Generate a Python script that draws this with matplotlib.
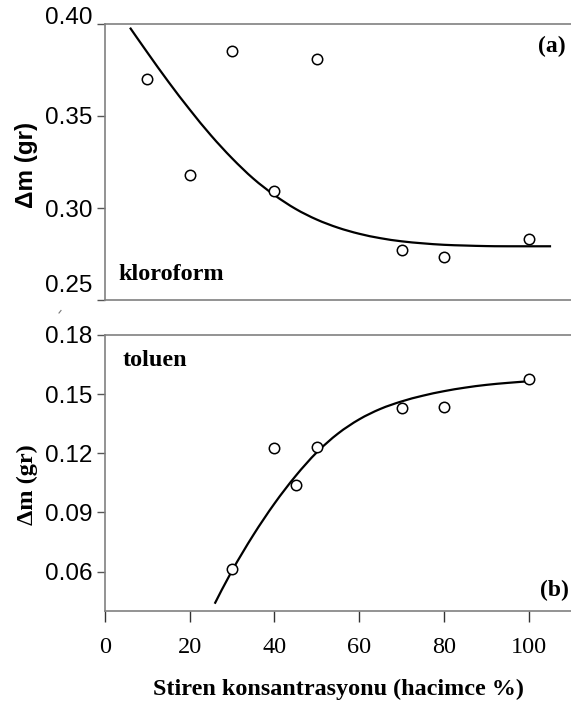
import matplotlib
matplotlib.use("Agg")
import matplotlib.pyplot as plt
from matplotlib.path import Path
from matplotlib.patches import PathPatch
from matplotlib.lines import Line2D
from matplotlib.transforms import ScaledTranslation

# ---- data ----
x_a = [10, 20, 30, 40, 50, 70, 80, 100]
y_a = [0.370, 0.318, 0.3855, 0.309, 0.381, 0.277, 0.2735, 0.2833]
fit_a_x = [5.9, 10, 15, 20, 25, 30, 35, 40, 45, 50, 55, 60, 65, 70, 75, 80, 85, 90, 95, 105.3]
fit_a_y = [0.398, 0.3845, 0.3685, 0.3535, 0.3395, 0.3270, 0.3160, 0.3070, 0.2995, 0.2937,
           0.2893, 0.2860, 0.2836, 0.2819, 0.2808, 0.2800, 0.2796, 0.2793, 0.2792, 0.2792]

x_b = [30, 40, 45, 50, 70, 80, 100]
y_b = [0.0612, 0.1227, 0.104, 0.1232, 0.1429, 0.1435, 0.1576]
fit_b_x = [25.9, 30, 35, 40, 45, 50, 55, 60, 65, 70, 75, 80, 85, 90, 95, 99.8]
fit_b_y = [0.0437, 0.0605, 0.0785, 0.0945, 0.1085, 0.1205, 0.1300, 0.1372, 0.1425, 0.1463,
           0.1492, 0.1515, 0.1533, 0.1547, 0.1557, 0.1565]

xticks = [0, 20, 40, 60, 80, 100]
yticks_a = [0.25, 0.30, 0.35, 0.40]
yticks_b = [0.06, 0.09, 0.12, 0.15, 0.18]

W, H = 571, 707
fig = plt.figure(figsize=(W / 100, H / 100), dpi=100)

spine_col = "#808080"
serif = "Liberation Serif"
sans = "Liberation Sans"


def fx(px):
    return px / W


def fy(py):
    return 1 - py / H


def smooth_path(xs, ys):
    """Smoothed line through the points (Bezier segments, like a spreadsheet 'smoothed line')."""
    pts = list(zip(xs, ys))
    n = len(pts)
    verts = [pts[0]]
    codes = [Path.MOVETO]
    for i in range(n - 1):
        p0 = pts[i - 1] if i > 0 else pts[i]
        p1 = pts[i]
        p2 = pts[i + 1]
        p3 = pts[i + 2] if i + 2 < n else pts[i + 1]
        c1 = (p1[0] + (p2[0] - p0[0]) / 6, p1[1] + (p2[1] - p0[1]) / 6)
        c2 = (p2[0] - (p3[0] - p1[0]) / 6, p2[1] - (p3[1] - p1[1]) / 6)
        verts += [c1, c2, p2]
        codes += [Path.CURVE4] * 3
    return Path(verts, codes)


L = 105
ax1 = fig.add_axes([fx(L), fy(300), fx(W - L), fy(24) - fy(300)])
ax2 = fig.add_axes([fx(L), fy(611), fx(W - L), fy(335) - fy(611)])

for ax in (ax1, ax2):
    ax.set_xlim(0, 110)
    ax.spines["right"].set_visible(False)
    for s in ("left", "top", "bottom"):
        ax.spines[s].set_color(spine_col)
        ax.spines[s].set_linewidth(1.2)
    ax.tick_params(axis="y", direction="out", length=6, width=1, color="#555555",
                   labelsize=17.5, pad=3)

# top panel
ax1.add_patch(PathPatch(smooth_path(fit_a_x, fit_a_y), fill=False, edgecolor="black",
                        lw=1.6, capstyle="butt"))
ax1.plot(x_a, y_a, linestyle="none", marker="o", markersize=7.5, mfc="white",
         mec="black", mew=1.1)
ax1.set_ylim(0.25, 0.40)
ax1.set_yticks(yticks_a)
ax1.set_yticklabels([f"{v:.2f}" for v in yticks_a], fontfamily=sans)
ax1.set_xticks([])
ax1.set_ylabel("Δm (gr)", fontfamily=sans, fontweight="bold", fontsize=17.5)
ax1.yaxis.set_label_coords(fx(38), fy(165), transform=fig.transFigure)
ax1.text(fx(118), fy(275), "kloroform", transform=fig.transFigure, fontfamily=serif,
         fontweight="bold", fontsize=17.5, ha="left", va="center")
ax1.text(fx(566), fy(46), "(a)", transform=fig.transFigure, fontfamily=serif,
         fontweight="bold", fontsize=17, ha="right", va="center")

# in the reference the end labels of the top panel sit a little above their ticks
shift_px = {0.25: 16, 0.40: 8}
for tick in ax1.yaxis.get_major_ticks():
    val = round(tick.get_loc(), 2)
    if val in shift_px:
        lbl = tick.label1
        lbl.set_transform(lbl.get_transform() +
                          ScaledTranslation(0, shift_px[val] / 100, fig.dpi_scale_trans))

# bottom panel
ax2.add_patch(PathPatch(smooth_path(fit_b_x, fit_b_y), fill=False, edgecolor="black",
                        lw=1.6, capstyle="butt"))
ax2.plot(x_b, y_b, linestyle="none", marker="o", markersize=7.5, mfc="white",
         mec="black", mew=1.1)
ax2.set_ylim(0.04, 0.18)
ax2.set_yticks(yticks_b)
ax2.set_yticklabels([f"{v:.2f}" for v in yticks_b], fontfamily=sans)
ax2.set_xticks(xticks)
ax2.set_xticklabels([str(v) for v in xticks], fontfamily=serif)
ax2.tick_params(axis="x", direction="out", length=8, width=1, color="#333333",
                labelsize=17.5, pad=11)
ax2.set_ylabel("Δm (gr)", fontfamily=serif, fontweight="bold", fontsize=17.5)
ax2.yaxis.set_label_coords(fx(38), fy(485), transform=fig.transFigure)
ax2.set_xlabel("Stiren konsantrasyonu (hacimce %)", fontfamily=serif,
               fontweight="bold", fontsize=17.4, labelpad=15)
ax2.text(fx(123), fy(360), "toluen", transform=fig.transFigure, fontfamily=serif,
         fontweight="bold", fontsize=17.5, ha="left", va="center")
ax2.text(fx(569), fy(590), "(b)", transform=fig.transFigure, fontfamily=serif,
         fontweight="bold", fontsize=17, ha="right", va="center")

# small stray mark visible in the reference between the panels
fig.add_artist(Line2D([fx(59), fx(61)], [fy(313), fy(310.5)], color="#777777", lw=0.8))

fig.savefig("out.png", dpi=100)
